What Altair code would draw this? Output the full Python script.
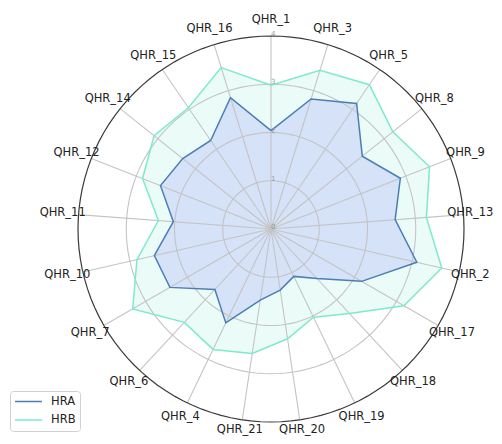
import altair as alt
import pandas as pd
import numpy as np

categories = ["QHR_1", "QHR_3", "QHR_5", "QHR_8", "QHR_9", "QHR_13", "QHR_2",
              "QHR_17", "QHR_18", "QHR_19", "QHR_20", "QHR_21", "QHR_4", "QHR_6",
              "QHR_7", "QHR_10", "QHR_11", "QHR_12", "QHR_14", "QHR_15", "QHR_16"]
hra = [2.04, 2.82, 3.15, 2.42, 2.88, 2.58, 3.10, 2.17, 1.40, 1.09, 1.28,
       1.49, 2.16, 1.71, 2.42, 2.48, 2.03, 2.46, 2.34, 2.22, 2.85]
hrb = [2.98, 3.44, 3.62, 3.23, 3.53, 3.23, 3.63, 3.18, 2.39, 2.03, 2.30,
       2.61, 2.77, 2.64, 3.31, 2.85, 2.34, 2.86, 3.10, 3.04, 3.50]
series_names = ["HRA", "HRB"]
line_colors = ["#4a7fb5", "#7ceacf"]
fill_colors = ["#d5e2f8", "#ebfcf8"]
inner_rings = [1, 2, 3]
outer_ring = [4]
tick_values = [0, 1, 2, 3, 4]

N = len(categories)
RMAX = 4

rows = []
for s, vals in zip(series_names, [hra, hrb]):
    for i, (c, v) in enumerate(zip(categories, vals)):
        rows.append({"series": s, "cat": c, "idx": i, "ord": i, "value": v})
    rows.append({"series": s, "cat": categories[0], "idx": 0, "ord": N, "value": vals[0]})
df = pd.DataFrame(rows)

cat_df = pd.DataFrame({"cat": categories, "idx": list(range(N))})

deg = list(range(0, 361, 3))
ring_df = pd.DataFrame([{"ring": r, "deg": d} for r in inner_rings + outer_ring for d in deg])
tick_df = pd.DataFrame({"tick": tick_values})

sx = alt.Scale(domain=[-RMAX, RMAX], nice=False, zero=False)
sy = alt.Scale(domain=[-RMAX, RMAX], nice=False, zero=False)


def X(f):
    return alt.X(f, type="quantitative", scale=sx, axis=None)


def Y(f):
    return alt.Y(f, type="quantitative", scale=sy, axis=None)


ANG = "datum.idx * 2 * PI / %d" % N

base = alt.Chart(df).transform_calculate(
    theta=ANG
).transform_calculate(
    px="datum.value * sin(datum.theta)",
    py="datum.value * cos(datum.theta)"
)

color_scale = alt.Scale(domain=series_names, range=line_colors)

fills = []
for s, fc in zip(["HRB", "HRA"], [fill_colors[1], fill_colors[0]]):
    fills.append(
        base.transform_filter(alt.datum.series == s).mark_line(
            fill=fc, strokeWidth=0, strokeOpacity=0
        ).encode(x=X("px"), y=Y("py"), order=alt.Order("ord:Q"))
    )

rings_base = alt.Chart(ring_df).transform_calculate(
    px="datum.ring * sin(datum.deg * PI / 180)",
    py="datum.ring * cos(datum.deg * PI / 180)"
)
inner = rings_base.transform_filter(alt.datum.ring < RMAX).mark_line(
    color="#c4c4c4", strokeWidth=1.1
).encode(x=X("px"), y=Y("py"), detail="ring:N", order=alt.Order("deg:Q"))
outer = rings_base.transform_filter(alt.datum.ring == RMAX).mark_line(
    color="#3a3a3a", strokeWidth=1.2
).encode(x=X("px"), y=Y("py"), detail="ring:N", order=alt.Order("deg:Q"))

spokes = alt.Chart(cat_df).transform_calculate(
    theta=ANG
).transform_calculate(
    x0="0", y0="0",
    sx="%d * sin(datum.theta)" % RMAX,
    sy="%d * cos(datum.theta)" % RMAX
).mark_rule(color="#c4c4c4", strokeWidth=1.1).encode(
    x=X("x0"), y=Y("y0"), x2="sx:Q", y2="sy:Q"
)

labels = alt.Chart(cat_df).transform_calculate(
    theta=ANG
).transform_calculate(
    lx="min(4.33 * sin(datum.theta), 4.13)",
    ly="max(4.33 * cos(datum.theta), -4.17)"
).mark_text(font="DejaVu Sans", fontSize=11.5, color="#222222",
            align="center", baseline="middle").encode(
    x=X("lx"), y=Y("ly"), text="cat:N"
)

ticks = alt.Chart(tick_df).transform_calculate(
    x0="0"
).mark_text(font="DejaVu Sans", fontSize=7, color="#9a9a9a",
            align="left", baseline="middle", dx=0, dy=-2).encode(
    x=X("x0"), y=Y("tick"), text="tick:Q"
)

lines = []
for s in ["HRB", "HRA"]:
    lines.append(
        base.transform_filter(alt.datum.series == s).mark_line(strokeWidth=1.5).encode(
            x=X("px"), y=Y("py"), order=alt.Order("ord:Q"),
            color=alt.Color("series:N", scale=color_scale,
                            legend=alt.Legend(title=None, orient="none",
                                              legendX=-68, legendY=355,
                                              symbolType="stroke",
                                              symbolSize=729,
                                              symbolStrokeWidth=1.5,
                                              clipHeight=13,
                                              labelFont="DejaVu Sans",
                                              labelFontSize=11.5,
                                              labelColor="#222222",
                                              labelOffset=8,
                                              rowPadding=5.5,
                                              padding=4,
                                              strokeColor="#d0d0d0",
                                              cornerRadius=3,
                                              fillColor="white"))
        )
    )

chart = alt.layer(
    fills[0], fills[1], inner, spokes, outer, lines[0], lines[1], ticks, labels
).properties(
    width=386, height=386,
    autosize=alt.AutoSizeParams(type="none"),
    padding={"left": 70, "top": 28, "right": 30, "bottom": 14}
).configure_view(stroke=None)

chart.save("out.html", embed_options={"renderer": "svg", "actions": False})
